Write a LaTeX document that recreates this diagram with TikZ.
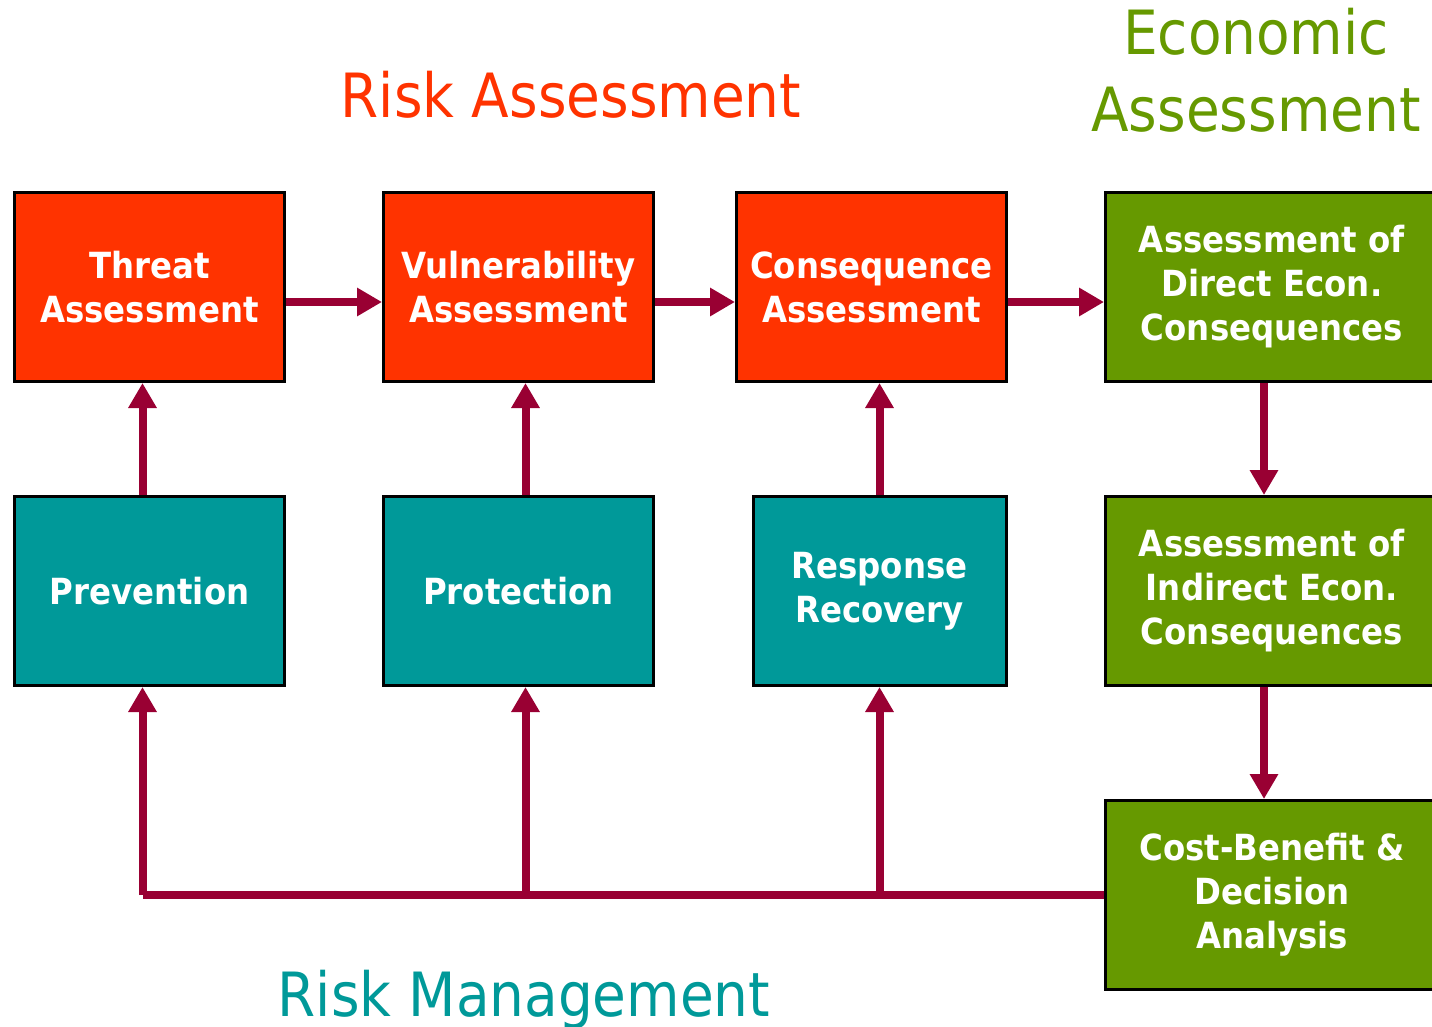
\documentclass[tikz,border=0pt]{standalone}
\usepackage{fontspec}
\setmainfont{DejaVu Sans}
\newfontfamily\slidefont{DejaVu Sans Condensed}
\usepackage{tikz}
\usetikzlibrary{arrows.meta, positioning}

\definecolor{riskred}{HTML}{FF3300}
\definecolor{mgmtteal}{HTML}{009999}
\definecolor{econgreen}{HTML}{669900}
\definecolor{flowred}{HTML}{990033}

\begin{document}
\begin{tikzpicture}[x=1pt, y=-1pt,
                stage/.style={draw=black, line width=3pt, minimum width=270pt, minimum height=189pt,
                             align=center, text=white, inner sep=0pt,
                             font={\slidefont\bfseries\fontsize{36}{44}\selectfont}},
                econ/.style={stage, minimum width=333pt, fill=econgreen},
                heading/.style={anchor=base, align=center, font={\slidefont\fontsize{61}{77}\selectfont}},
                flow/.style={-{Triangle[length=25pt, width=27pt]}, line width=8pt, flowred}]

                \useasboundingbox (0,0) rectangle (1432,1027);

                % Risk assessment chain
                \node[stage, fill=riskred] (threat) at (149.5,287) {Threat\\Assessment};
                \node[stage, fill=riskred, right=96pt of threat] (vuln) {Vulnerability\\Assessment};
                \node[stage, fill=riskred, right=80pt of vuln] (conseq) {Consequence\\Assessment};
                \node[econ, right=96pt of conseq] (direct) {Assessment of\\Direct Econ.\\Consequences};

                % Risk management
                \node[stage, fill=mgmtteal, below=112pt of threat] (prevent) {Prevention};
                \node[stage, fill=mgmtteal, below=112pt of vuln] (protect) {Protection};
                \node[stage, fill=mgmtteal, minimum width=253pt, below=112pt of conseq, xshift=8pt] (respond) {Response\\Recovery};

                % Economic assessment
                \node[econ, below=112pt of direct] (indirect) {Assessment of\\Indirect Econ.\\Consequences};
                \node[econ, below=112pt of indirect] (costben) {Cost-Benefit \&\\Decision\\Analysis};

                % Arrows along the chain
                \draw[flow] ([yshift=-15pt]threat.east) -- ([yshift=-15pt]vuln.west);
                \draw[flow] ([yshift=-15pt]vuln.west -| vuln.east) -- ([yshift=-15pt]conseq.west);
                \draw[flow] ([yshift=-15pt]conseq.east) -- ([yshift=-15pt]direct.west);
                \draw[flow] ([xshift=-8pt]direct.south) -- ([xshift=-8pt]indirect.north);
                \draw[flow] ([xshift=-8pt]indirect.south) -- ([xshift=-8pt]costben.north);

                % Management feeds back into assessment
                \draw[flow] ([xshift=-7pt]prevent.north) -- ([xshift=-7pt]threat.south);
                \draw[flow] ([xshift=7pt]protect.north) -- ([xshift=7pt]vuln.south);
                \draw[flow] (respond.north) -- (respond.north |- conseq.south);

                % Decision analysis loop
                \coordinate (jprevent) at ([xshift=-7pt]prevent.south |- costben.west);
                \coordinate (jprotect) at ([xshift=7pt]protect.south |- costben.west);
                \coordinate (jrespond) at (respond.south |- costben.west);
                \draw[line width=8pt, flowred] (costben.west) -- (jprevent);
                \draw[flow] (jprevent) -- ([xshift=-7pt]prevent.south);
                \draw[flow] (jprotect) -- ([xshift=7pt]protect.south);
                \draw[flow] (jrespond) -- (respond.south);

                % Labels
                \node[heading, text=riskred] (riskhead) at (571,118) {Risk Assessment};
                \node[heading, text=econgreen] (econhead) at (1256,132) {Economic\\Assessment};
                \node[heading, text=mgmtteal] (mgmthead) at (524,1016) {Risk Management};
            \end{tikzpicture}
\end{document}
